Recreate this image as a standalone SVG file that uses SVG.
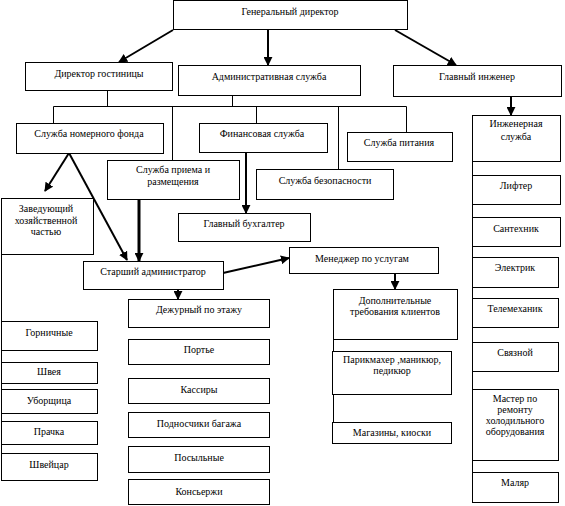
<svg xmlns="http://www.w3.org/2000/svg" width="565" height="506" viewBox="0 0 565 506">
<style>
.b{fill:#fff;stroke:#000;stroke-width:1}
.t{font-family:"Liberation Serif","Times New Roman",serif;font-size:10px;fill:#000;text-anchor:middle}
.c{stroke:#000;stroke-width:1;fill:none}
.a{stroke:#000;stroke-width:2;fill:none;marker-end:url(#ah)}
.a3{stroke:#000;stroke-width:3;fill:none;marker-end:url(#ah)}
</style>
<defs>
<marker id="ah" viewBox="0 0 10 10" refX="9" refY="5" markerWidth="9" markerHeight="9" markerUnits="userSpaceOnUse" orient="auto"><path d="M0,0L10,5L0,10z" fill="#000"/></marker>
</defs>
<rect width="565" height="506" fill="#fff"/>
<g id="connectors">
<line class="a" x1="173" y1="30" x2="119" y2="62"/>
<line class="a" x1="268" y1="30" x2="268" y2="65"/>
<line class="a" x1="395" y1="30" x2="456" y2="65"/>
<path class="c" d="M107.5,90V106.5M232.5,95V106.5M53.5,123V106.5H406.5V132M172.5,106.5V160M256.5,106.5V123M338.5,106.5V169"/>
<line class="a" x1="511" y1="96" x2="511" y2="115"/>
<line class="a" x1="69" y1="153" x2="45" y2="191"/>
<line class="a" x1="69" y1="153" x2="127" y2="260"/>
<line class="a3" x1="139" y1="199" x2="139" y2="261"/>
<line class="a" x1="246" y1="152" x2="246" y2="213"/>
<line class="a" x1="223" y1="273" x2="289" y2="258"/>
<line class="a" x1="178" y1="289" x2="178" y2="299"/>
<line class="a" x1="395" y1="273" x2="395" y2="289"/>
<path class="c" d="M1.5,254V453M333.5,339V422M472.5,161V472"/>
</g>
<g id="gen_dir"><rect class="b" x="173.5" y="0.5" width="234" height="29"/><text class="t" x="290" y="15">Генеральный директор</text></g>
<g id="dir_gost"><rect class="b" x="25.5" y="62.5" width="147" height="28"/><text class="t" x="99" y="77">Директор гостиницы</text></g>
<g id="adm"><rect class="b" x="178.5" y="65.5" width="182" height="30"/><text class="t" x="269" y="80">Административная служба</text></g>
<g id="gl_inj"><rect class="b" x="393.5" y="65.5" width="168" height="31"/><text class="t" x="477" y="80">Главный инженер</text></g>
<g id="nom_fond"><rect class="b" x="16.5" y="123.5" width="147" height="30"/><text class="t" x="89" y="137">Служба номерного фонда</text></g>
<g id="fin"><rect class="b" x="199.5" y="123.5" width="128" height="29"/><text class="t" x="262" y="137">Финансовая служба</text></g>
<g id="pit"><rect class="b" x="347.5" y="132.5" width="105" height="29"/><text class="t" x="399" y="146">Служба питания</text></g>
<g id="priem"><rect class="b" x="107.5" y="160.5" width="132" height="39"/><text class="t" x="173" y="173">Служба приема и</text><text class="t" x="173" y="185">размещения</text></g>
<g id="bez"><rect class="b" x="256.5" y="169.5" width="137" height="30"/><text class="t" x="325" y="184">Служба безопасности</text></g>
<g id="buh"><rect class="b" x="178.5" y="213.5" width="132" height="28"/><text class="t" x="244" y="227">Главный бухгалтер</text></g>
<g id="zav"><rect class="b" x="1.5" y="198.5" width="92" height="56"/><text class="t" x="46" y="212">Заведующий</text><text class="t" x="46" y="224">хозяйственной</text><text class="t" x="46" y="235">частью</text></g>
<g id="star"><rect class="b" x="83.5" y="261.5" width="140" height="28"/><text class="t" x="153" y="275">Старший администратор</text></g>
<g id="men"><rect class="b" x="289.5" y="247.5" width="149" height="26"/><text class="t" x="362" y="262">Менеджер по услугам</text></g>
<g id="dop"><rect class="b" x="333.5" y="289.5" width="124" height="50"/><text class="t" x="395" y="304">Дополнительные</text><text class="t" x="395" y="315">требования клиентов</text></g>
<g id="par"><rect class="b" x="332.5" y="351.5" width="119" height="43"/><text class="t" x="392" y="363">Парикмахер ,маникюр,</text><text class="t" x="392" y="374">педикюр</text></g>
<g id="mag"><rect class="b" x="332.5" y="422.5" width="119" height="21"/><text class="t" x="392" y="436">Магазины, киоски</text></g>
<g id="inj"><rect class="b" x="472.5" y="115.5" width="88" height="46"/><text class="t" x="516" y="127">Инженерная</text><text class="t" x="516" y="140">служба</text></g>
<g id="lift"><rect class="b" x="472.5" y="175.5" width="88" height="29"/><text class="t" x="516" y="189">Лифтер</text></g>
<g id="sant"><rect class="b" x="472.5" y="217.5" width="88" height="29"/><text class="t" x="516" y="232">Сантехник</text></g>
<g id="el"><rect class="b" x="472.5" y="257.5" width="86" height="30"/><text class="t" x="515" y="271">Электрик</text></g>
<g id="tel"><rect class="b" x="472.5" y="298.5" width="86" height="29"/><text class="t" x="515" y="312">Телемеханик</text></g>
<g id="svyaz"><rect class="b" x="472.5" y="342.5" width="86" height="29"/><text class="t" x="515" y="356">Связной</text></g>
<g id="master"><rect class="b" x="472.5" y="389.5" width="86" height="71"/><text class="t" x="515" y="402">Мастер по</text><text class="t" x="515" y="413">ремонту</text><text class="t" x="515" y="424">холодильного</text><text class="t" x="515" y="435">оборудования</text></g>
<g id="malyar"><rect class="b" x="472.5" y="472.5" width="86" height="30"/><text class="t" x="515" y="486">Маляр</text></g>
<g id="dezh"><rect class="b" x="128.5" y="299.5" width="141" height="28"/><text class="t" x="199" y="313">Дежурный по этажу</text></g>
<g id="porte"><rect class="b" x="128.5" y="339.5" width="141" height="25"/><text class="t" x="199" y="353">Портье</text></g>
<g id="kass"><rect class="b" x="128.5" y="378.5" width="141" height="25"/><text class="t" x="199" y="393">Кассиры</text></g>
<g id="podn"><rect class="b" x="128.5" y="412.5" width="141" height="25"/><text class="t" x="199" y="427">Подносчики багажа</text></g>
<g id="posyl"><rect class="b" x="128.5" y="446.5" width="141" height="26"/><text class="t" x="199" y="461">Посыльные</text></g>
<g id="kons"><rect class="b" x="128.5" y="479.5" width="141" height="25"/><text class="t" x="199" y="495">Консьержи</text></g>
<g id="gorn"><rect class="b" x="1.5" y="321.5" width="96" height="29"/><text class="t" x="49" y="336">Горничные</text></g>
<g id="shveya"><rect class="b" x="1.5" y="362.5" width="96" height="21"/><text class="t" x="49" y="375">Швея</text></g>
<g id="ubor"><rect class="b" x="1.5" y="389.5" width="96" height="24"/><text class="t" x="49" y="404">Уборщица</text></g>
<g id="prach"><rect class="b" x="1.5" y="421.5" width="96" height="23"/><text class="t" x="49" y="435">Прачка</text></g>
<g id="shveyc"><rect class="b" x="1.5" y="453.5" width="96" height="27"/><text class="t" x="49" y="468">Швейцар</text></g>
</svg>
